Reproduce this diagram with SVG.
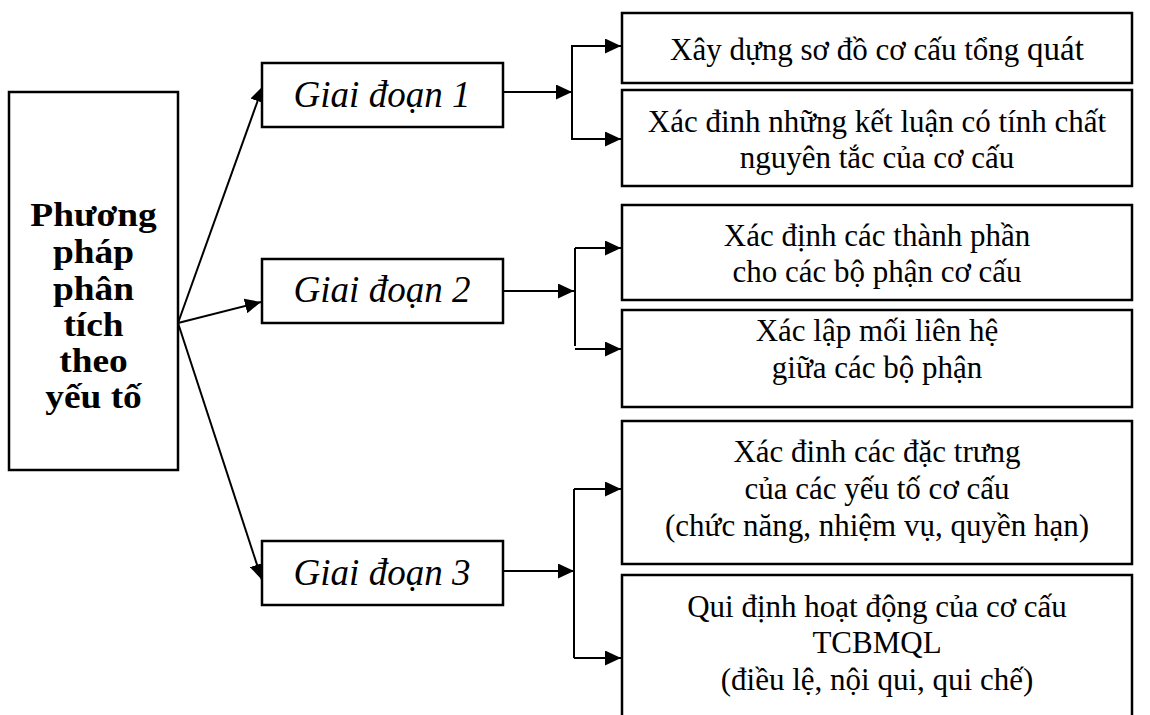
<svg xmlns="http://www.w3.org/2000/svg" width="1150" height="715" viewBox="0 0 1150 715">
<defs>
<marker id="ah" markerUnits="userSpaceOnUse" markerWidth="17" markerHeight="15" refX="16" refY="7.5" orient="auto">
<path d="M0,0 L16,7.5 L0,15 z" fill="#000"/>
</marker>
<style>
.box{fill:#fff;stroke:#000;stroke-width:2.5}
.t{font-family:"Liberation Serif","Times New Roman",serif;font-size:31px;fill:#000;text-anchor:middle}
.b{font-family:"Liberation Serif","Times New Roman",serif;font-size:34px;font-weight:bold;fill:#000;text-anchor:middle}
.i{font-family:"Liberation Serif","Times New Roman",serif;font-size:37px;font-style:italic;fill:#000;text-anchor:middle}
.c{fill:none;stroke:#000;stroke-width:2}
.a{fill:none;stroke:#000;stroke-width:2;marker-end:url(#ah)}
</style>
</defs>
<rect width="1150" height="715" fill="#fff"/>
<g id="connectors">
<path class="a" d="M178,323 L263,86"/>
<path class="a" d="M178,323 L261,302"/>
<path class="a" d="M178,323 L262,580"/>
<path class="a" d="M503,92 L572,92"/>
<path class="c" d="M572,45 L572,140"/>
<path class="a" d="M572,46 L621,46"/>
<path class="a" d="M572,139 L621,139"/>
<path class="a" d="M503,291 L574,291"/>
<path class="c" d="M575,248 L575,346"/>
<path class="a" d="M575,248 L621,248"/>
<path class="a" d="M575,349 L621,349"/>
<path class="a" d="M503,571 L574,571"/>
<path class="c" d="M574,489 L574,658"/>
<path class="a" d="M574,489 L621,489"/>
<path class="a" d="M574,658 L621,658"/>
</g>
<g id="root">
<rect class="box" x="9" y="92" width="169" height="378"/>
<g transform="translate(93.5 0) scale(1.1 1)">
<text class="b" x="0" y="226">Phương</text>
<text class="b" x="0" y="263">pháp</text>
<text class="b" x="0" y="300">phân</text>
<text class="b" x="0" y="336">tích</text>
<text class="b" x="0" y="372">theo</text>
<text class="b" x="0" y="408">yếu tố</text>
</g>
</g>
<g id="gd1">
<rect class="box" x="262" y="63" width="241" height="64"/>
<text class="i" x="382" y="107">Giai đoạn 1</text>
</g>
<g id="gd2">
<rect class="box" x="262" y="259" width="241" height="64"/>
<text class="i" x="382" y="302">Giai đoạn 2</text>
</g>
<g id="gd3">
<rect class="box" x="262" y="541" width="241" height="64"/>
<text class="i" x="382" y="585">Giai đoạn 3</text>
</g>
<g id="s1">
<rect class="box" x="622" y="13" width="510" height="70"/>
<text class="t" x="877" y="60">Xây dựng sơ đồ cơ cấu tổng <tspan font-size="33">quát</tspan></text>
</g>
<g id="s2">
<rect class="box" x="622" y="90" width="510" height="96"/>
<text class="t" x="877" y="132">Xác đinh những kết luận có tính chất</text>
<text class="t" x="877" y="168">nguyên tắc của cơ cấu</text>
</g>
<g id="s3">
<rect class="box" x="622" y="205" width="510" height="95"/>
<text class="t" x="877" y="246">Xác định các thành phần</text>
<text class="t" x="877" y="282">cho các bộ phận cơ cấu</text>
</g>
<g id="s4">
<rect class="box" x="622" y="310" width="510" height="97"/>
<text class="t" x="877" y="341">Xác lập mối liên hệ</text>
<text class="t" x="877" y="378">giữa các bộ phận</text>
</g>
<g id="s5">
<rect class="box" x="622" y="421" width="510" height="143"/>
<text class="t" x="877" y="462">Xác đinh các đặc trưng</text>
<text class="t" x="877" y="499">của các yếu tố cơ cấu</text>
<text class="t" x="877" y="536">(chức năng, nhiệm vụ, quyền hạn)</text>
</g>
<g id="s6">
<rect class="box" x="622" y="575" width="510" height="150"/>
<text class="t" x="877" y="617">Qui định hoạt động của cơ cấu</text>
<text class="t" x="877" y="653">TCBMQL</text>
<text class="t" x="877" y="690">(điều lệ, nội qui, qui chế)</text>
</g>
</svg>
